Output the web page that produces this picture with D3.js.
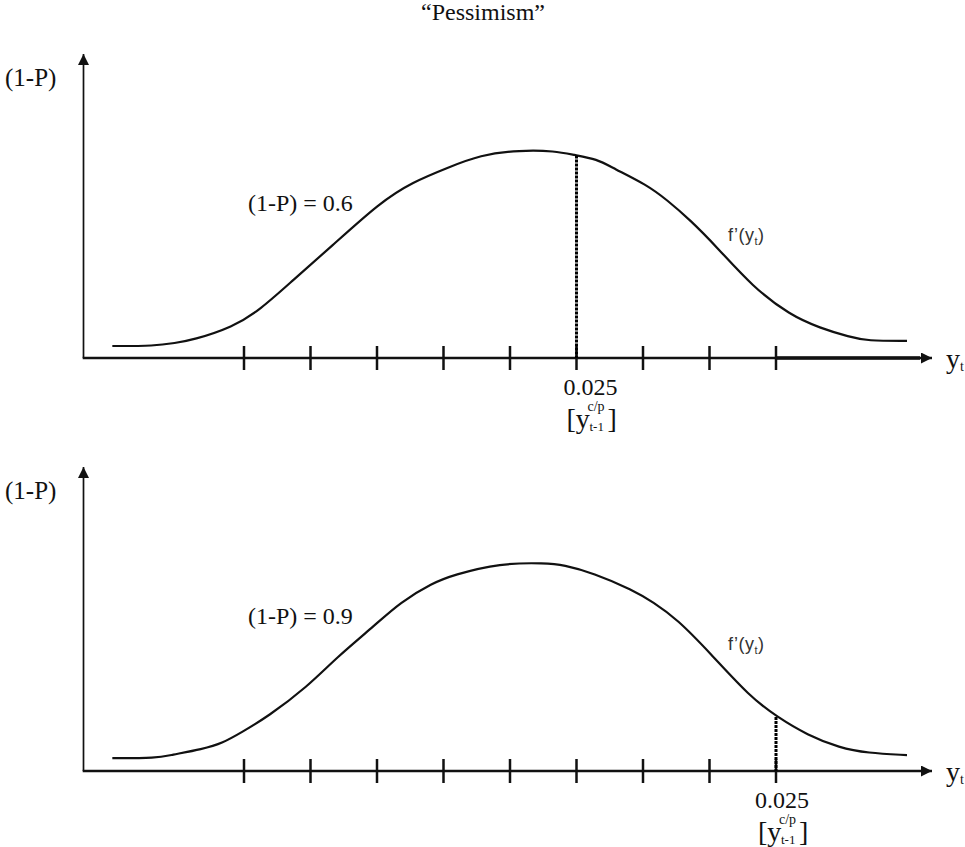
<!DOCTYPE html>
<html>
<head>
<meta charset="utf-8">
<script src="https://cdn.jsdelivr.net/npm/d3@7"></script>
<style>
  body { margin: 0; background: #fff; }
  svg text { font-family: "Liberation Serif", "Times New Roman", serif; fill: #111; }
</style>
</head>
<body>
<script>
// Chart setup
const w = 965;
const h = 847;

// tick marks on the y_t axis (in tick units)
const tickUnits = [1, 2, 3, 4, 5, 6, 7, 8, 9];

// f(y_t) curves: x in tick units, y as share of axis height
const topCurveX = [-0.98, -0.34, -0.04, 0.23, 0.83, 1.24, 1.74, 2.29, 3.05, 3.54, 4.05, 4.55, 5.15, 5.68, 5.96, 6.31, 6.55, 7.06, 7.36, 7.71, 8.11, 8.65, 9.21, 9.66, 10.11, 10.37, 10.97];
const topCurveY = [0.04, 0.04, 0.05, 0.06, 0.103, 0.16, 0.26, 0.367, 0.52, 0.587, 0.633, 0.677, 0.693, 0.69, 0.677, 0.663, 0.633, 0.577, 0.527, 0.46, 0.37, 0.237, 0.143, 0.10, 0.07, 0.057, 0.057];

const bottomCurveX = [-0.98, -0.31, -0.11, 0.38, 0.68, 0.97, 1.35, 1.95, 2.40, 2.94, 3.35, 3.84, 4.14, 4.85, 5.54, 5.80, 6.25, 6.85, 7.15, 7.51, 8.01, 8.61, 9.02, 9.47, 9.96, 10.37, 10.97];
const bottomCurveY = [0.043, 0.043, 0.053, 0.073, 0.093, 0.13, 0.18, 0.28, 0.38, 0.48, 0.563, 0.627, 0.653, 0.693, 0.693, 0.687, 0.66, 0.603, 0.563, 0.507, 0.393, 0.247, 0.18, 0.12, 0.077, 0.06, 0.053];

// critical value marker per panel
const cutoffX = [6, 9];
const cutoffY = [0.675, 0.18];
const cutoffLabel = "0.025";

const probLabels = ["(1-P) = 0.6", "(1-P) = 0.9"];
const titleText = "\u201cPessimism\u201d";

const svg = d3.select("body")
    .append("svg")
    .attr("width", w)
    .attr("height", h)

svg.append("defs").append("marker")
    .attr("id", "arrow")
    .attr("viewBox", "0 0 10 10")
    .attr("refX", 10)
    .attr("refY", 5)
    .attr("markerUnits", "userSpaceOnUse")
    .attr("markerWidth", 14)
    .attr("markerHeight", 11)
    .attr("orient", "auto")
    .append("path")
    .attr("d", "M0,0 L10,5 L0,10 z")
    .attr("fill", "#111")

svg.append("text")
    .attr("x", 483)
    .attr("y", 20)
    .attr("text-anchor", "middle")
    .style("font-size", "24px")
    .text(titleText)

const xScale = d3.scaleLinear()
    .domain([1, 9])
    .range([244, 776])

function drawPanel(axisY, cx, cy, idx, thickEnd, labelShift) {
    const yScale = d3.scaleLinear()
        .domain([0, 1])
        .range([axisY, axisY - 300])

    const g = svg.append("g")

    // y axis with arrow
    g.append("line")
        .attr("x1", 83.5).attr("x2", 83.5)
        .attr("y1", axisY).attr("y2", axisY - 304)
        .attr("stroke", "#111").attr("stroke-width", 1.7)
        .attr("marker-end", "url(#arrow)")

    // x axis with arrow
    g.append("line")
        .attr("x1", 82.7).attr("x2", 932)
        .attr("y1", axisY).attr("y2", axisY)
        .attr("stroke", "#111").attr("stroke-width", 2.4)
        .attr("marker-end", "url(#arrow)")

    if (thickEnd) {
        g.append("line")
            .attr("x1", xScale(9)).attr("x2", 920)
            .attr("y1", axisY).attr("y2", axisY)
            .attr("stroke", "#111").attr("stroke-width", 3.6)
    }

    g.selectAll(".tick")
        .data(tickUnits)
        .join("line")
        .attr("class", "tick")
        .attr("x1", d => xScale(d)).attr("x2", d => xScale(d))
        .attr("y1", axisY - 12).attr("y2", axisY + 12)
        .attr("stroke", "#111").attr("stroke-width", 2.5)

    const pts = d3.zip(cx, cy)
    const line = d3.line()
        .x(d => xScale(d[0]))
        .y(d => yScale(d[1]))
        .curve(d3.curveBasis)

    g.append("path")
        .datum(pts)
        .attr("d", line)
        .attr("fill", "none")
        .attr("stroke", "#111")
        .attr("stroke-width", 2.2)

    // dashed cut-off
    g.append("line")
        .attr("x1", xScale(cutoffX[idx])).attr("x2", xScale(cutoffX[idx]))
        .attr("y1", yScale(cutoffY[idx])).attr("y2", axisY)
        .attr("stroke", "#000").attr("stroke-width", 3)
        .attr("stroke-dasharray", "3,1")

    // labels
    g.append("text")
        .attr("x", 5).attr("y", yScale(0.9) - 2)
        .style("font-size", "25px")
        .text("(1-P)")

    g.append("text")
        .attr("x", xScale(1.06)).attr("y", yScale(0.49))
        .style("font-size", "24px")
        .text(probLabels[idx])

    const f = g.append("text")
        .attr("x", xScale(8.28)).attr("y", yScale(idx === 0 ? 0.39 : 0.403))
        .style("font-family", "'Liberation Sans', Arial, sans-serif")
        .style("font-size", "18px")
        .style("letter-spacing", "0.5px")
        .style("fill", "#333")
    f.append("tspan").text("f\u2019(y")
    f.append("tspan").attr("dy", 4).style("font-size", "11px").text("t")
    f.append("tspan").attr("dy", -4).text(")")

    const yt = g.append("text")
        .attr("x", 946).attr("y", axisY + 10)
        .style("font-size", "28px")
    yt.append("tspan").text("y")
    yt.append("tspan").attr("dy", 3).style("font-size", "14px").text("t")

    const lx = xScale(cutoffX[idx]) + labelShift
    g.append("text")
        .attr("x", lx).attr("y", axisY + 37)
        .style("font-size", "24px")
        .text(cutoffLabel)

    const bx = lx + 3
    g.append("text")
        .attr("x", bx).attr("y", axisY + 70)
        .style("font-size", "28px")
        .text("[y")
    g.append("text")
        .attr("x", bx + 21).attr("y", axisY + 53)
        .style("font-size", "14px")
        .text("c/p")
    g.append("text")
        .attr("x", bx + 23).attr("y", axisY + 73)
        .style("font-size", "13px")
        .text("t-1")
    g.append("text")
        .attr("x", bx + 41).attr("y", axisY + 70)
        .style("font-size", "28px")
        .text("]")
}

drawPanel(358, topCurveX, topCurveY, 0, true, -13)
drawPanel(771, bottomCurveX, bottomCurveY, 1, false, -21)
</script>
</body>
</html>
